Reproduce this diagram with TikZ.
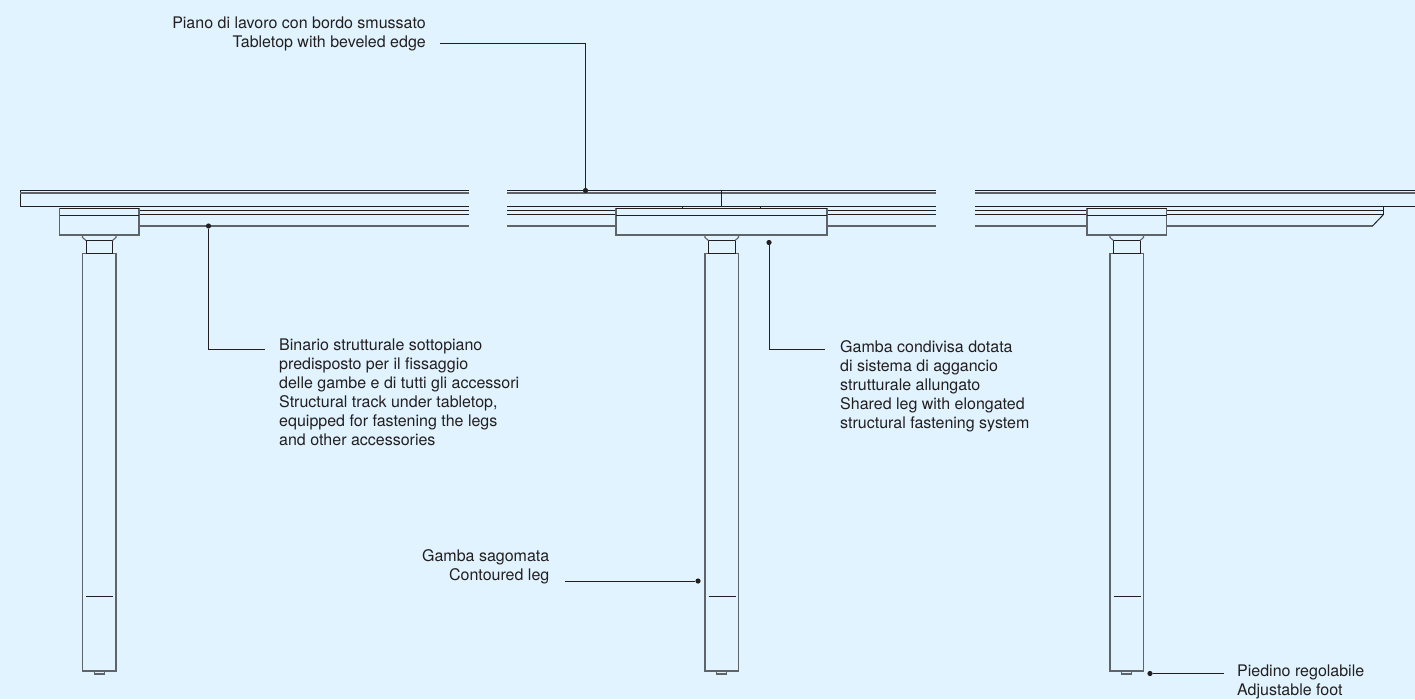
\documentclass[tikz,border=0pt]{standalone}
\usepackage{fontspec}
\setmainfont{TeX Gyre Heros}
\usetikzlibrary{positioning}
\definecolor{paper}{RGB}{224,243,254}
\definecolor{ink}{RGB}{35,31,32}
\definecolor{inkgray}{RGB}{95,100,105}
\tikzset{
    line/.style={draw=ink, line width=0.95pt},
    soft/.style={draw=inkgray, line width=1.1pt},
    legbox/.style={soft, inner sep=0pt, outer sep=0pt, minimum width=33.5pt, minimum height=417.5pt},
    neckbox/.style={line, inner sep=0pt, outer sep=0pt, minimum width=26.5pt, minimum height=13pt},
    clampbox/.style={soft, inner sep=0pt, outer sep=0pt, minimum height=26.7pt},
    footbox/.style={soft, inner sep=0pt, outer sep=0pt, minimum width=10pt, minimum height=3pt},
    dot/.style={circle, fill=ink, inner sep=0pt, minimum size=5.2pt},
    label/.style={inner sep=0pt, text=ink, font=\fontsize{16}{18.95}\selectfont}
}
\begin{document}
\begin{tikzpicture}[x=1pt, y=-1pt]
    \fill[paper, use as bounding box] (0, 0) rectangle (1415, 699);
    % tabletop
    \draw[line] (469, 190.3) -- (20, 190.3) -- (20, 206.3) -- (469, 206.3);
    \draw[soft] (20, 193) -- (469, 193);
    \draw[line] (507, 190.3) -- (936, 190.3);
    \draw[soft] (507, 193) -- (936, 193);
    \draw[line] (507, 206.3) -- (936, 206.3);
    \draw[line] (1415, 190.3) -- (975, 190.3);
    \draw[soft] (975, 193) -- (1415, 193);
    \draw[line] (975, 206.3) -- (1415, 206.3);
    \draw[line] (721.5, 190.3) -- (721.5, 206.3);
    % structural track
    \draw[line] (139, 210.5) -- (469, 210.5);
    \draw[line] (139, 214.5) -- (469, 214.5);
    \draw[soft] (139, 226) -- (469, 226);
    \draw[line] (507, 210.5) -- (616, 210.5);
    \draw[line] (507, 214.5) -- (616, 214.5);
    \draw[soft] (507, 226) -- (616, 226);
    \draw[line] (827, 210.5) -- (936, 210.5);
    \draw[line] (827, 214.5) -- (936, 214.5);
    \draw[soft] (827, 226) -- (936, 226);
    \draw[line] (975, 210.5) -- (1087, 210.5);
    \draw[line] (975, 214.5) -- (1087, 214.5);
    \draw[soft] (975, 226) -- (1087, 226);
    \draw[line] (1166, 210.5) -- (1383.5, 210.5);
    \draw[line] (1166, 214.5) -- (1383.5, 214.5);
    \draw[soft] (1166, 226) -- (1372.5, 226);
    \draw[line] (1372.5, 226) -- (1383.5, 214.5) -- (1383.5, 206.3);
    % left leg
    \node[clampbox, minimum width=79.5pt] (clampL) at (99.25, 221.65) {};
    \draw[line] (59.5, 215.5) -- (139, 215.5);
    \draw[line] (clampL.north west) -- (clampL.north east);
    \node[legbox] (legL) at (99.25, 462.25) {};
    \node[neckbox] (neckL) at (99.25, 247) {};
    \node[footbox] (footL) at (99.25, 672.5) {};
    \draw[soft] (82.5, 235) -- (82.5, 237.5) -- (86, 240.5);
    \draw[soft] (116, 235) -- (116, 237.5) -- (112.5, 240.5);
    \draw[line] (86, 596) -- (113, 596);
    % middle leg
    \node[clampbox, minimum width=211pt] (clampM) at (721.5, 221.65) {};
    \draw[line] (616, 215.5) -- (827, 215.5);
    \draw[line] (clampM.north west) -- (clampM.north east);
    \draw[line] (682, 206.3) -- (682, 208.3);
    \draw[line] (760.5, 206.3) -- (760.5, 208.3);
    \node[legbox] (legM) at (721.75, 462.25) {};
    \node[neckbox] (neckM) at (721.75, 247) {};
    \node[footbox] (footM) at (721.75, 672.5) {};
    \draw[soft] (705, 235) -- (705, 237.5) -- (708.5, 240.5);
    \draw[soft] (738.5, 235) -- (738.5, 237.5) -- (735, 240.5);
    \draw[line] (708.5, 596) -- (735.5, 596);
    % right leg
    \node[clampbox, minimum width=79.5pt] (clampR) at (1126.75, 221.65) {};
    \draw[line] (1087, 215.5) -- (1166.5, 215.5);
    \draw[line] (clampR.north west) -- (clampR.north east);
    \node[legbox] (legR) at (1126.75, 462.25) {};
    \node[neckbox] (neckR) at (1126.75, 247) {};
    \node[footbox] (footR) at (1126.75, 672.5) {};
    \draw[soft] (1110, 235) -- (1110, 237.5) -- (1113.5, 240.5);
    \draw[soft] (1143.5, 235) -- (1143.5, 237.5) -- (1140, 240.5);
    \draw[line] (1113.5, 596) -- (1140.5, 596);
    % labels
    \node[label, anchor=east, align=right] (topText) at (426, 33.5) {Piano di lavoro con bordo smussato\\Tabletop with beveled edge};
    \node[label, anchor=west, align=left] (trackText) at (279, 392.5) {Binario strutturale sottopiano\\predisposto per il fissaggio\\delle gambe e di tutti gli accessori\\Structural track under tabletop,\\equipped for fastening the legs\\and other accessories};
    \node[label, anchor=west, align=left] (sharedText) at (840, 386) {Gamba condivisa dotata\\di sistema di aggancio\\strutturale allungato\\Shared leg with elongated\\structural fastening system};
    \node[label, anchor=east, align=right] (legText) at (549.5, 567) {Gamba sagomata\\Contoured leg};
    \node[label, anchor=west, align=left] (footText) at (1237, 681.5) {Piedino regolabile\\Adjustable foot};
    % leaders
    \node[dot] (topDot) at (585.5, 190.5) {};
    \node[dot] (trackDot) at (208.5, 226) {};
    \node[dot] (sharedDot) at (769, 242.5) {};
    \node[dot] (legDot) at (698, 581) {};
    \node[dot] (footDot) at (1150, 673.5) {};
    \coordinate (topEnd) at (440, 43);
    \coordinate (trackEnd) at (265, 349);
    \coordinate (sharedEnd) at (825, 349);
    \coordinate (legEnd) at (565, 581);
    \coordinate (footEnd) at (1224, 673.5);
    \draw[line] (topEnd) -| (topDot);
    \draw[line] (trackDot) |- (trackEnd);
    \draw[line] (sharedDot) |- (sharedEnd);
    \draw[line] (legEnd) -- (legDot);
    \draw[line] (footDot) -- (footEnd);
\end{tikzpicture}
\end{document}
